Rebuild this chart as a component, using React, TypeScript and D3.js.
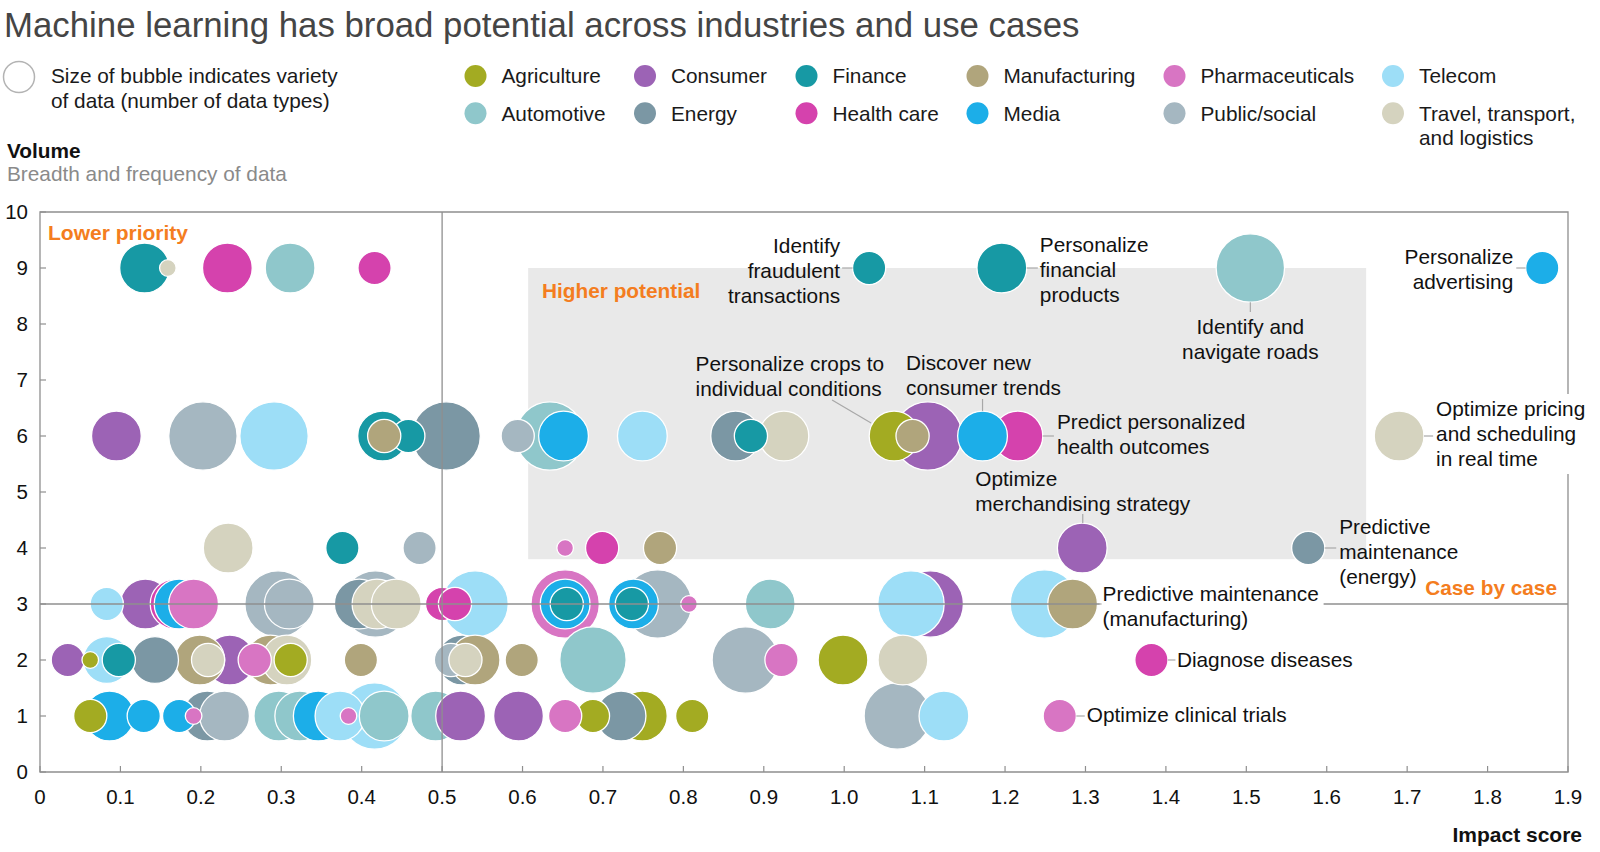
import React from 'react';
import * as d3 from 'd3';

const FONT = '"Liberation Sans", Arial, Helvetica, sans-serif';

// Industries (code, legend label, colour)
const industryCodes = ['Ag', 'Au', 'Co', 'En', 'Fi', 'He', 'Mf', 'Me', 'Ph', 'Pu', 'Te', 'Tr'];
const industryNames = ['Agriculture', 'Automotive', 'Consumer', 'Energy', 'Finance', 'Health care', 'Manufacturing', 'Media', 'Pharmaceuticals', 'Public/social', 'Telecom', 'Travel, transport,|and logistics'];
const industryColors = ['#a3ab22', '#8fc7cb', '#9c63b5', '#7b97a4', '#1799a4', '#d542ad', '#b0a57c', '#1caee8', '#d875c3', '#a5b7c1', '#9ddef7', '#d5d3bf'];

// Use cases: [industry, impact score, variety (number of data types)], grouped by volume
type B = [string, number, number];
const volume9: B[] = [
  ['Fi', 0.13, 9], ['Tr', 0.159, 1], ['He', 0.233, 9], ['Au', 0.311, 9], ['He', 0.416, 4],
  ['Fi', 1.031, 4], ['Fi', 1.196, 9], ['Au', 1.505, 17], ['Me', 1.868, 4],
];
const volume6: B[] = [
  ['Co', 0.095, 9], ['Pu', 0.2026, 17], ['Te', 0.291, 17], ['Fi', 0.426, 9], ['Fi', 0.458, 4],
  ['Mf', 0.428, 4], ['En', 0.505, 17], ['Pu', 0.594, 4], ['Au', 0.634, 17], ['Me', 0.651, 9],
  ['Te', 0.749, 9], ['En', 0.865, 9], ['Fi', 0.884, 4], ['Tr', 0.925, 9], ['Co', 1.104, 17],
  ['Ag', 1.062, 9], ['Mf', 1.085, 4], ['He', 1.216, 9], ['Me', 1.172, 9], ['Tr', 1.69, 9],
];
const volume4: B[] = [
  ['Tr', 0.234, 9], ['Fi', 0.376, 4], ['Pu', 0.472, 4], ['Ph', 0.653, 1], ['He', 0.699, 4],
  ['Mf', 0.771, 4], ['Co', 1.296, 9], ['En', 1.577, 4],
];
const volume3: B[] = [
  ['Te', 0.083, 4], ['Co', 0.131, 9], ['He', 0.168, 9], ['Me', 0.173, 9], ['Ph', 0.191, 9],
  ['Pu', 0.296, 16], ['Pu', 0.31, 9], ['Pu', 0.417, 16], ['En', 0.397, 9], ['Tr', 0.419, 9],
  ['Tr', 0.443, 9], ['He', 0.5, 4], ['He', 0.516, 4], ['Te', 0.541, 16], ['Ph', 0.653, 17],
  ['Me', 0.653, 9], ['Fi', 0.655, 4], ['Pu', 0.768, 17], ['Me', 0.738, 9], ['Fi', 0.736, 4],
  ['Ph', 0.807, 1], ['Au', 0.908, 9], ['Co', 1.107, 16], ['Te', 1.083, 16], ['Te', 1.249, 17],
  ['Mf', 1.284, 9],
];
const volume2: B[] = [
  ['Co', 0.0346, 4], ['Te', 0.083, 8], ['Ag', 0.0625, 1], ['Fi', 0.098, 4], ['En', 0.143, 8],
  ['Mf', 0.2865, 9], ['Co', 0.236, 9], ['Mf', 0.1987, 9], ['Tr', 0.307, 9], ['Tr', 0.209, 4],
  ['Ph', 0.267, 4], ['Ag', 0.3117, 4], ['Mf', 0.399, 4], ['En', 0.525, 9], ['Mf', 0.541, 9],
  ['Pu', 0.511, 4], ['Tr', 0.529, 4], ['Mf', 0.599, 4], ['Au', 0.6876, 16], ['Pu', 0.877, 16],
  ['Ph', 0.922, 4], ['Ag', 0.9985, 9], ['Tr', 1.073, 9], ['He', 1.382, 4],
];
const volume1: B[] = [
  ['Ag', 0.0625, 4], ['Me', 0.0864, 9], ['Me', 0.129, 4], ['Me', 0.173, 4], ['Ph', 0.191, 1],
  ['En', 0.208, 9], ['Pu', 0.2295, 9], ['Au', 0.297, 9], ['Au', 0.323, 9], ['Me', 0.346, 9],
  ['Te', 0.373, 9], ['Ph', 0.3836, 1], ['Te', 0.416, 16], ['Au', 0.428, 9], ['Au', 0.492, 9],
  ['Co', 0.523, 9], ['Co', 0.595, 9], ['Ag', 0.6876, 4], ['Ph', 0.653, 4], ['Ag', 0.749, 9],
  ['En', 0.7225, 9], ['Ag', 0.811, 4], ['Pu', 1.066, 16], ['Te', 1.124, 9], ['Ph', 1.268, 4],
];
const volumeRows: [number, B[]][] = [[9, volume9], [6, volume6], [4, volume4], [3, volume3], [2, volume2], [1, volume1]];

const xTicks = [0, 0.1, 0.2, 0.3, 0.4, 0.5, 0.6, 0.7, 0.8, 0.9, 1.0, 1.1, 1.2, 1.3, 1.4, 1.5, 1.6, 1.7, 1.8, 1.9];
const yTicks = [0, 1, 2, 3, 4, 5, 6, 7, 8, 9, 10];

// Highlighted use cases: [impact, volume, variety]
const annotationTargets: [number, number, number][] = [
  [1.031, 9, 4], [1.196, 9, 9], [1.868, 9, 4], [1.505, 9, 17], [1.062, 6, 9], [1.172, 6, 9],
  [1.216, 6, 9], [1.296, 4, 9], [1.69, 6, 9], [1.577, 4, 4], [1.284, 3, 9], [1.382, 2, 4], [1.268, 1, 4],
];
const annotationTexts: string[][] = [
  ['Identify', 'fraudulent', 'transactions'],
  ['Personalize', 'financial', 'products'],
  ['Personalize', 'advertising'],
  ['Identify and', 'navigate roads'],
  ['Personalize crops to', 'individual conditions'],
  ['Discover new', 'consumer trends'],
  ['Predict personalized', 'health outcomes'],
  ['Optimize', 'merchandising strategy'],
  ['Optimize pricing', 'and scheduling', 'in real time'],
  ['Predictive', 'maintenance', '(energy)'],
  ['Predictive maintenance', '(manufacturing)'],
  ['Diagnose diseases'],
  ['Optimize clinical trials'],
];

// layout of annotation text relative to the bubble centre (pixels)
const annotationLayout: { anchor: string; dx: number; dy: number; lead: number[]; bg?: number }[] = [
  { anchor: 'end', dx: -29, dy: -22.5, lead: [-1, 0, -27, 0] },
  { anchor: 'start', dx: 38, dy: -23, lead: [1, 0, 36, 0] },
  { anchor: 'end', dx: -29, dy: -11.5, lead: [-1, 0, -26, 0] },
  { anchor: 'middle', dx: 0, dy: 58.5, lead: [0, 1, 0, 44] },
  { anchor: 'start', dx: -198.5, dy: -72.5, lead: [-62, -36, -23, -13] },
  { anchor: 'start', dx: -76.5, dy: -73.5, lead: [0, -37, 0, -25] },
  { anchor: 'start', dx: 39, dy: -14, lead: [1, 0, 36, 0] },
  { anchor: 'start', dx: -107, dy: -69.5, lead: [0.5, -34, 0.5, -25] },
  { anchor: 'start', dx: 37, dy: -27, lead: [1, 0, 34, 0], bg: 158 },
  { anchor: 'start', dx: 31, dy: -21, lead: [1, 0, 28, 0] },
  { anchor: 'start', dx: 30, dy: -10.5, lead: [1, 0, 29, 0], bg: 224 },
  { anchor: 'start', dx: 25.5, dy: 0, lead: [1, 0, 24, 0] },
  { anchor: 'start', dx: 27, dy: -1, lead: [1, 0, 25, 0] },
];

const W = 1600;
const H = 852;
const LABEL_FS = 20.8;
const TICK_FS = 20.5;
const LINE_H = 25;

export default function App() {
  const x = d3.scaleLinear().domain([0, 1.9]).range([40, 1568]);
  const y = d3.scaleLinear().domain([0, 10]).range([772, 212]);
  const r = d3.scaleSqrt().domain([0, 17]).range([0, 34.2]);
  const color = d3.scaleOrdinal<string, string>().domain(industryCodes).range(industryColors);

  const bubbles = volumeRows
    .flatMap(([vol, list]) => list.map(([code, imp, v]) => ({ code, imp, vol, v })))
    .map((b, i) => ({ ...b, i }))
    .sort((a, b) => (b.v - a.v) || (a.i - b.i));

  const base = (c: number, fs: number) => c + 0.35 * fs;

  const x0 = x(0), x1 = x(1.9), y0 = y(0), y10 = y(10);
  const lineColor = '#8f8f8f';

  return (
    <svg width={W} height={H} style={{ position: 'absolute', left: 0, top: 0, background: '#fff' }} fontFamily={FONT}>
      <rect x={0} y={0} width={W} height={H} fill="#fff" />
      {/* Title */}
      <text x={4} y={37} fontSize={34.8} fill="#454545">Machine learning has broad potential across industries and use cases</text>

      {/* size legend */}
      <circle cx={19} cy={77} r={15.5} fill="#fff" stroke="#b3b3b3" strokeWidth={1.5} />
      <text x={51} y={base(76, LABEL_FS)} fontSize={LABEL_FS} fill="#1a1a1a">Size of bubble indicates variety</text>
      <text x={51} y={base(100.5, LABEL_FS)} fontSize={LABEL_FS} fill="#1a1a1a">of data (number of data types)</text>

      {/* industry legend */}
      {industryNames.map((name, i) => {
        const col = Math.floor(i / 2);
        const row = i % 2;
        const dotX = [475.5, 645, 806.5, 977.5, 1174.5, 1393][col];
        const cy = row === 0 ? 76 : 113.3;
        const lines = name.split('|');
        return (
          <g key={name}>
            <circle cx={dotX} cy={cy} r={11} fill={industryColors[i]} />
            {lines.map((l, k) => (
              <text key={k} x={dotX + 26} y={base(cy + k * 24.5, LABEL_FS)} fontSize={LABEL_FS} fill="#1a1a1a">{l}</text>
            ))}
          </g>
        );
      })}

      {/* Y axis title */}
      <text x={7} y={base(151, 20.8)} fontSize={20.8} fontWeight="bold" fill="#111">Volume</text>
      <text x={7} y={base(173.5, 20.8)} fontSize={20.8} fill="#8a8a8a">Breadth and frequency of data</text>

      {/* Higher potential zone */}
      <rect x={x(0.607)} y={y(9)} width={x(1.649) - x(0.607)} height={y(3.8) - y(9)} fill="#e9e9e9" />

      {/* frame */}
      <path d={`M${x0},${y10}H${x1}V${y0}H${x0}Z`} fill="none" stroke={lineColor} strokeWidth={1.3} />
      {yTicks.map((t) => (
        <g key={'y' + t}>
          <line x1={x0} x2={x0 + 6} y1={y(t)} y2={y(t)} stroke={lineColor} strokeWidth={1.2} />
          <text x={28} y={base(y(t), TICK_FS)} fontSize={TICK_FS} textAnchor="end" fill="#111">{t}</text>
        </g>
      ))}
      {xTicks.map((t) => (
        <g key={'x' + t}>
          <line x1={x(t)} x2={x(t)} y1={y0} y2={y0 - 6} stroke={lineColor} strokeWidth={1.2} />
          <text x={x(t)} y={base(797, TICK_FS)} fontSize={TICK_FS} textAnchor="middle" fill="#111">{t === 0 ? '0' : t.toFixed(1)}</text>
        </g>
      ))}
      <text x={1582} y={base(835, 21)} fontSize={21} fontWeight="bold" textAnchor="end" fill="#111">Impact score</text>

      {/* bubbles */}
      {bubbles.map((b) => (
        <circle key={b.i} cx={x(b.imp)} cy={y(b.vol)} r={r(b.v)} fill={color(b.code)} stroke="#fff" strokeWidth={1.3} />
      ))}

      {/* reference lines */}
      <line x1={x(0.5)} x2={x(0.5)} y1={y10} y2={y0} stroke={lineColor} strokeWidth={1.3} />
      <line x1={x0} x2={x1} y1={y(3)} y2={y(3)} stroke={lineColor} strokeWidth={1.3} />

      {/* zone labels */}
      <text x={48} y={base(233, 21)} fontSize={21} fontWeight="bold" fill="#f47d20">Lower priority</text>
      <text x={542} y={base(291, 20.8)} fontSize={20.8} fontWeight="bold" fill="#f47d20">Higher potential</text>
      <text x={1557} y={base(588, 20.8)} fontSize={20.8} fontWeight="bold" textAnchor="end" fill="#f47d20">Case by case</text>

      {/* annotations */}
      {annotationTargets.map(([imp, vol, v], i) => {
        const cx = x(imp);
        const cy = y(vol);
        const rr = r(v);
        const L = annotationLayout[i];
        const lines = annotationTexts[i];
        const [a, b2, c, d] = L.lead;
        // leader starts on the bubble edge
        const sx = a === 1 ? rr : a === -1 ? -rr : a;
        const sy = b2 === 1 ? rr : b2;
        return (
          <g key={'a' + i}>
            {L.bg ? (
              <rect x={cx + L.dx - 3} y={cy + L.dy - 15} width={L.bg} height={(lines.length - 1) * LINE_H + 30} fill="#fff" />
            ) : null}
            <line x1={cx + sx} y1={cy + sy} x2={cx + c} y2={cy + d} stroke="#a8a8a8" strokeWidth={1.2} />
            {lines.map((l, k) => (
              <text key={k} x={cx + L.dx} y={base(cy + L.dy + k * LINE_H, LABEL_FS)} fontSize={LABEL_FS} textAnchor={L.anchor} fill="#111">{l}</text>
            ))}
          </g>
        );
      })}
    </svg>
  );
}
